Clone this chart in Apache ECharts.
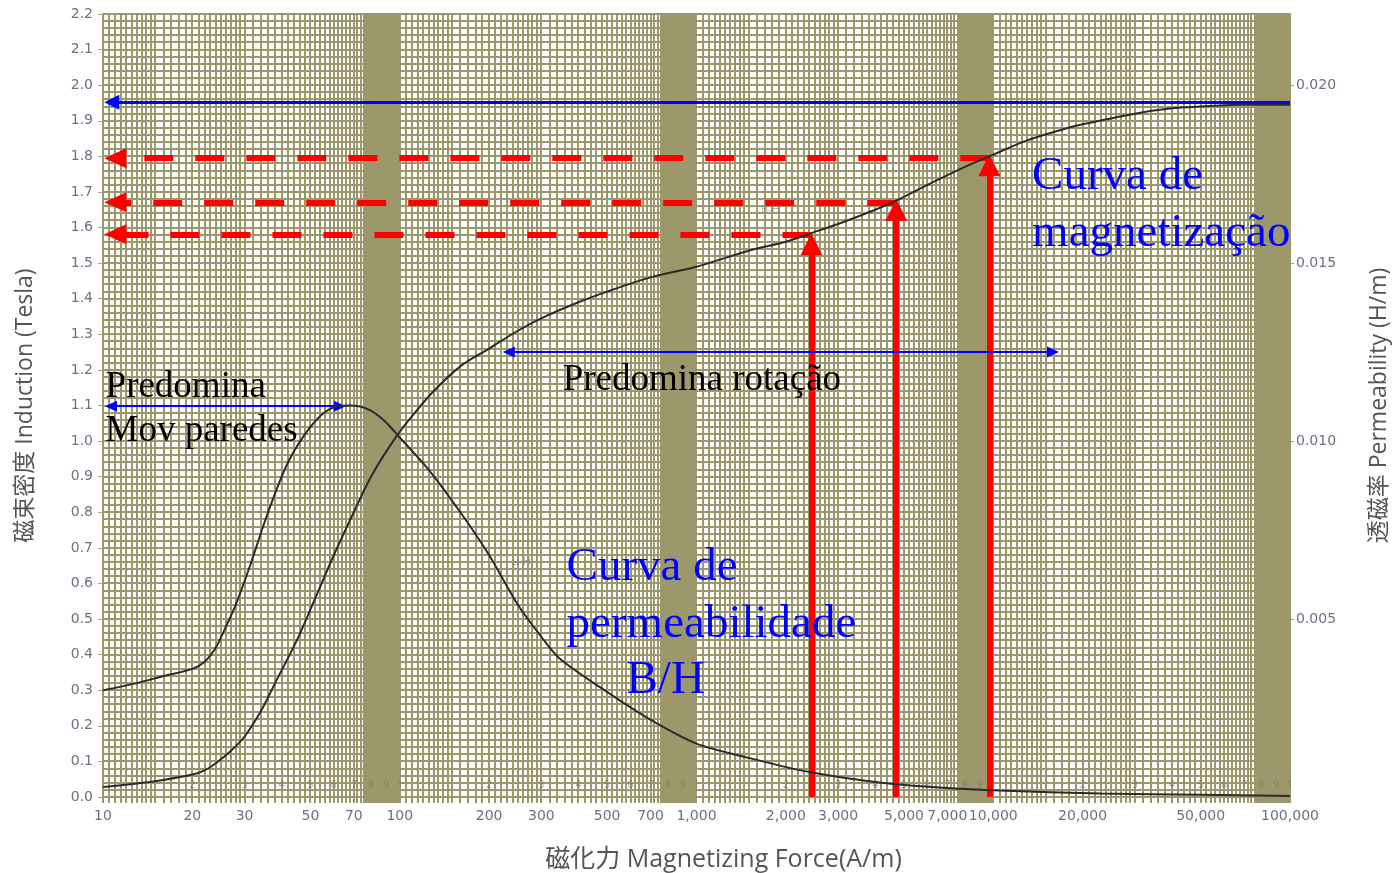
<!DOCTYPE html>
<html>
<head>
<meta charset="utf-8">
<script src="https://cdn.jsdelivr.net/npm/echarts@6/dist/echarts.min.js"></script>
<style>
html, body { margin: 0; padding: 0; background: #fff; }
#chart { width: 1397px; height: 873px; }
</style>
</head>
<body>
<div id="chart"></div>
<script>
// magnetizing force labels shown under the x axis
const hLabels = [10, 20, 30, 50, 70, 100, 200, 300, 500, 700, 1000, 2000, 3000, 5000, 7000, 10000, 20000, 50000, 100000];

// B-H curve (induction, Tesla)
const bH   = [10, 13, 16, 20, 22, 24, 27, 30, 34, 38, 45, 52, 60, 70, 80, 95, 110, 130, 160, 200, 250, 300, 400, 500, 700, 1000, 1500, 2000, 2450, 3000, 4000, 4700, 6000, 8000, 9700, 13000, 17000, 20000, 30000, 40000, 50000, 70000, 100000];
const bVal = [0.028, 0.038, 0.048, 0.063, 0.075, 0.095, 0.13, 0.17, 0.24, 0.32, 0.44, 0.56, 0.68, 0.80, 0.90, 1.00, 1.07, 1.14, 1.21, 1.26, 1.31, 1.345, 1.39, 1.42, 1.46, 1.49, 1.535, 1.56, 1.585, 1.61, 1.65, 1.675, 1.72, 1.77, 1.80, 1.845, 1.875, 1.89, 1.92, 1.935, 1.94, 1.945, 1.945];

// permeability curve (H/m)
const muH   = [10, 13, 16, 20, 22, 24, 26, 28, 31, 36, 42, 50, 58, 68, 78, 88, 100, 125, 160, 200, 250, 300, 345, 470, 690, 1000, 1500, 2400, 4200, 7000, 10500, 23000, 50000, 100000];
const muVal = [0.0030, 0.0032, 0.0034, 0.0036, 0.0038, 0.0042, 0.0048, 0.0054, 0.0064, 0.0080, 0.0094, 0.0104, 0.0109, 0.0110, 0.0109, 0.0106, 0.0101, 0.0092, 0.0080, 0.0068, 0.0054, 0.0045, 0.0039, 0.0031, 0.0022, 0.0015, 0.0011, 0.0007, 0.0004, 0.00025, 0.00018, 0.0001, 0.00006, 0.00003];

// annotation arrows [H, B] (start, end)
const satLine   = [[100000, 1.952], [10.7, 1.952]];
const redLevels = [1.795, 1.671, 1.581];
const redH      = [9700, 4710, 2440];
const redTipB   = [1.775, 1.649, 1.553];
const rotArrow  = [[233, 1.25], [15900, 1.25]];
const wallArrow = [[10.64, 1.098], [62.8, 1.098]];

// text notes anchored at [H, B]
const noteText = ['Predomina', 'Mov paredes', 'Predomina rotação', 'Curva de', 'magnetização', 'Curva de', 'permeabilidade', 'B/H', 'B-H', 'μ-H'];
const noteH    = [10.2, 10.2, 354, 13520, 13520, 365, 365, 581, 1650, 240];
const noteB    = [1.152, 1.028, 1.171, 1.744, 1.584, 0.643, 0.483, 0.326, 1.65, 0.66];
const noteKind = ['black', 'black', 'black', 'blue', 'blue', 'blue', 'blue', 'blue', 'faint', 'faint'];

// log paper printed digits
const paperDigits = ['2', '3', '4', '5', '6', '7', '8', '9', '1'];

const olive = '#9d986c';
const labelColor = '#6e6e86';
const decades = [10, 100, 1000, 10000];
// rule spacing inside one decade: [from, to, step]
const paperSteps = [[1, 1.5, 0.05], [1.5, 3, 0.1], [3, 7.6, 0.2], [7.6, 10, 0.05]];

const gridX = [];
decades.forEach(d => {
    paperSteps.forEach(([a, b, s]) => {
        for (let m = a; m < b - 1e-9; m += s) gridX.push(+(d * m).toFixed(4));
    });
});
gridX.push(100000);

const gridY = [];
for (let k = 0; k <= 110; k++) gridY.push(+(k * 0.02).toFixed(2));

const digitPos = [];
decades.forEach(d => {
    paperDigits.forEach((t, i) => digitPos.push([d * (i + 2), 0.034, t]));
});

const noteStyles = {
    black: { fill: '#000', font: '37px "Liberation Serif"' },
    blue:  { fill: '#0000ff', font: '47px "Liberation Serif"' },
    faint: { fill: 'rgba(120,120,120,0.55)', font: '11px "Open Sans"' }
};

const chart = echarts.init(document.getElementById('chart'));

const redDash = redH.map((h, i) => [
    { coord: [h, redLevels[i]], symbol: 'none' },
    { coord: [11, redLevels[i]], symbol: 'triangle', symbolSize: [20, 22] }
]);
const redUp = redH.map((h, i) => [
    { coord: [h, 0], symbol: 'none' },
    { coord: [h, redTipB[i]], symbol: 'triangle', symbolSize: [22, 22] }
]);

const nameFont = '"Open Sans", "Noto Sans CJK JP"';

const option = {
    backgroundColor: '#fff',
    animation: false,
    grid: {
        left: 103, right: 107, top: 14, bottom: 76,
        containLabel: false, outerBoundsMode: 'none',
        show: true, backgroundColor: '#fff', borderColor: '#c8c4a8', borderWidth: 1
    },
    xAxis: {
        type: 'log', logBase: 10, min: 10, max: 100000,
        name: '磁化力 Magnetizing Force(A/m)',
        nameLocation: 'middle', nameGap: 50,
        nameTextStyle: { fontSize: 25, color: '#555', fontFamily: nameFont, padding: [0, 0, 0, 54] },
        axisLine: { lineStyle: { color: olive, width: 2 } },
        axisTick: { show: false },
        splitLine: { show: false },
        axisLabel: {
            customValues: hLabels,
            color: labelColor, fontSize: 14, margin: 12, hideOverlap: false,
            fontFamily: '"DejaVu Sans"',
            formatter: v => echarts.format.addCommas(v)
        }
    },
    yAxis: [{
        type: 'value', min: 0, max: 2.2, interval: 0.1,
        name: '磁束密度 Induction (Tesla)',
        nameLocation: 'middle', nameGap: 66, nameRotate: 90,
        nameTextStyle: { fontSize: 23, color: '#555', fontFamily: nameFont },
        axisLine: { show: true, lineStyle: { color: olive, width: 2 } },
        axisTick: { show: true, length: 5, lineStyle: { color: '#a8a48a' } },
        axisLabel: { color: labelColor, fontSize: 14, margin: 10, fontFamily: '"DejaVu Sans"', formatter: v => v.toFixed(1) },
        splitLine: { show: false }
    }, {
        type: 'value', min: 0, max: 0.022, interval: 0.005,
        name: '透磁率 Permeability (H/m)',
        nameLocation: 'middle', nameGap: 78, nameRotate: 90,
        nameTextStyle: { fontSize: 23, color: '#555', fontFamily: nameFont },
        axisLine: { show: true, lineStyle: { color: olive, width: 2 } },
        axisTick: { show: true, length: 4, lineStyle: { color: '#a8a48a' } },
        axisLabel: {
            color: labelColor, fontSize: 14, margin: 6, fontFamily: '"DejaVu Sans"',
            showMinLabel: false, showMaxLabel: false,
            formatter: v => v.toFixed(3)
        },
        splitLine: { show: false }
    }],
    series: [
        {
            // horizontal paper rules, snapped to whole pixels
            type: 'custom', silent: true, clip: false, z: 1,
            data: gridY.map(v => [10, v]),
            encode: { x: 0, y: 1 },
            renderItem: (params, api) => {
                const p0 = api.coord([10, api.value(1)]);
                const p1 = api.coord([100000, api.value(1)]);
                const y = Math.round(p0[1]);
                return {
                    type: 'line',
                    shape: { x1: p0[0], y1: y, x2: p1[0], y2: y },
                    style: { stroke: olive, lineWidth: 2 }
                };
            }
        },
        {
            // vertical log paper rules, snapped to whole pixels
            type: 'custom', silent: true, clip: false, z: 1,
            data: gridX.map(v => [v, 0]),
            encode: { x: 0, y: 1 },
            renderItem: (params, api) => {
                const p0 = api.coord([api.value(0), 0]);
                const p1 = api.coord([api.value(0), 2.2]);
                const x = Math.round(p0[0]);
                return {
                    type: 'line',
                    shape: { x1: x, y1: p0[1] + 6, x2: x, y2: p1[1] },
                    style: { stroke: olive, lineWidth: 2 }
                };
            }
        },
        {
            // digits printed on the paper
            type: 'custom', silent: true, z: 2,
            data: digitPos,
            encode: { x: 0, y: 1 },
            renderItem: (params, api) => {
                const p = api.coord([api.value(0), api.value(1)]);
                return {
                    type: 'text', x: p[0], y: p[1],
                    style: { text: digitPos[params.dataIndex][2], fill: 'rgba(110,100,120,0.6)', font: '10px "Open Sans"', align: 'center', verticalAlign: 'middle' }
                };
            }
        },
        {
            name: 'B-H', type: 'line', yAxisIndex: 0, z: 5,
            data: bH.map((h, i) => [h, bVal[i]]),
            showSymbol: false, smooth: 0.3,
            lineStyle: { color: '#2b2b2b', width: 2 }
        },
        {
            name: 'μ-H', type: 'line', yAxisIndex: 1, z: 5,
            data: muH.map((h, i) => [h, muVal[i]]),
            showSymbol: false, smooth: 0.3,
            lineStyle: { color: '#2b2b2b', width: 2 }
        },
        {
            type: 'line', yAxisIndex: 0, data: [], z: 6,
            markLine: {
                silent: true, animation: false, label: { show: false },
                lineStyle: { color: '#ff0000', width: 6, type: [29, 22] },
                data: redDash
            }
        },
        {
            type: 'line', yAxisIndex: 0, data: [], z: 6,
            markLine: {
                silent: true, animation: false, label: { show: false },
                lineStyle: { color: '#ff0000', width: 6, type: 'solid' },
                data: redUp
            }
        },
        {
            type: 'line', yAxisIndex: 0, data: [], z: 7,
            markLine: {
                silent: true, animation: false, label: { show: false },
                lineStyle: { color: '#0000ff', width: 3, type: 'solid' },
                data: [[
                    { coord: satLine[0], symbol: 'none' },
                    { coord: satLine[1], symbol: 'triangle', symbolSize: [15, 15] }
                ]]
            }
        },
        {
            type: 'line', yAxisIndex: 0, data: [], z: 7,
            markLine: {
                silent: true, animation: false, label: { show: false },
                symbol: ['triangle', 'triangle'], symbolSize: [11, 12],
                lineStyle: { color: '#0000ff', width: 2, type: 'solid' },
                data: [
                    [{ coord: rotArrow[0] }, { coord: rotArrow[1] }],
                    [{ coord: wallArrow[0] }, { coord: wallArrow[1] }]
                ]
            }
        },
        {
            // text notes
            type: 'custom', silent: true, clip: false, z: 8,
            data: noteH.map((h, i) => [h, noteB[i]]),
            encode: { x: 0, y: 1 },
            renderItem: (params, api) => {
                const i = params.dataIndex;
                const p = api.coord([api.value(0), api.value(1)]);
                const st = noteStyles[noteKind[i]];
                return {
                    type: 'text', x: p[0], y: p[1],
                    style: { text: noteText[i], fill: st.fill, font: st.font, align: 'left', verticalAlign: 'middle' }
                };
            }
        }
    ]
};

chart.setOption(option);
</script>
</body>
</html>
